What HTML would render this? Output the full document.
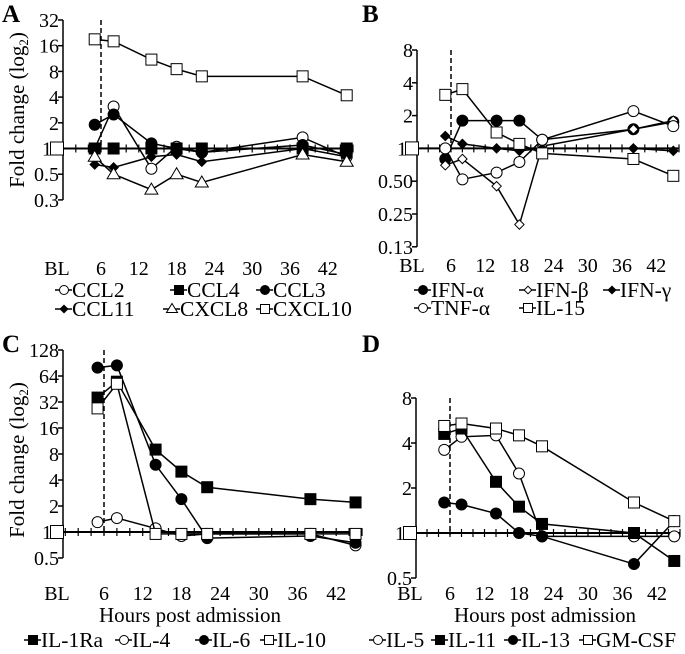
<!DOCTYPE html>
<html><head><meta charset="utf-8"><style>
html,body{margin:0;padding:0;background:#fff;}
svg text{font-family:"Liberation Serif",serif;fill:#000;}
</style></head><body>
<svg id="c" width="685" height="649" viewBox="0 0 685 649" xmlns="http://www.w3.org/2000/svg"></svg>
<script>
const hours = [5, 8, 14, 18, 22, 38, 45];
const xTickLabels = ["BL","6","12","18","24","30","36","42"];
// Panel A
const aNames = ["CCL2","CCL4","CCL3","CCL11","CXCL8","CXCL10"];
const aCCL2 = [1.0, 3.1, 0.58, 1.05, 0.9, 1.35, 0.8];
const aCCL4 = [1, 1, 1, 1, 1, 1, 1];
const aCCL3 = [1.9, 2.5, 1.15, 1.0, 0.9, 1.1, 0.85];
const aCCL11 = [0.65, 0.6, 0.8, 0.85, 0.7, 1.0, 0.8];
const aCXCL8 = [0.8, 0.5, 0.33, 0.5, 0.4, 0.85, 0.7];
const aCXCL10 = [19, 18, 11, 8.5, 7, 7, 4.2];
const aTicks = ["32","16","8","4","2","1","0.5","0.3"];
// Panel B
const bNames = ["IFN-α","IFN-β","IFN-γ","TNF-α","IL-15"];
const bIFNa = [0.8, 1.8, 1.8, 1.8, 1.2, 1.5, 1.75];
const bIFNb = [0.7, 0.8, 0.45, 0.2, 1.05, 1.5, 1.8];
const bIFNg = [1.3, 1.1, 1.0, 0.95, 1.0, 1.0, 0.95];
const bTNFa = [1.0, 0.52, 0.6, 0.75, 1.2, 2.2, 1.6];
const bIL15 = [3.1, 3.5, 1.4, 1.1, 0.9, 0.8, 0.56];
const bTicks = ["8","4","2","1","0.50","0.25","0.13"];
// Panel C
const cNames = ["IL-1Ra","IL-4","IL-6","IL-10"];
const cIL1Ra = [36, 55, 9, 5, 3.3, 2.4, 2.2];
const cIL4 = [1.3, 1.45, 1.1, 0.9, 0.95, 0.95, 0.7];
const cIL6 = [80, 85, 6, 2.4, 0.85, 0.9, 0.75];
const cIL10 = [27, 52, 0.95, 0.95, 0.95, 0.95, 0.95];
const cTicks = ["128","64","32","16","8","4","2","1","0.5"];
// Panel D
const dNames = ["IL-5","IL-11","IL-13","GM-CSF"];
const dIL5 = [3.6, 4.4, 4.5, 2.5, 0.95, 0.95, 0.95];
const dIL11 = [4.6, 5.0, 2.2, 1.5, 1.15, 1.0, 0.65];
const dIL13 = [1.6, 1.55, 1.35, 1.0, 0.95, 0.62, 1.2];
const dGMCSF = [5.2, 5.4, 5.0, 4.5, 3.8, 1.6, 1.2];
const dTicks = ["8","4","2","1","0.5"];

const NS="http://www.w3.org/2000/svg";
const svg=document.getElementById('c');
function mk(tag,attrs,parent){const e=document.createElementNS(NS,tag);for(const k in attrs)e.setAttribute(k,attrs[k]);(parent||svg).appendChild(e);return e;}
function marker(g,type,x,y,s){
  s=s||5.5;let e;
  if(type==='oc'||type==='fc') e=mk('circle',{cx:x,cy:y,r:s,fill:type==='fc'?'#000':'#fff',stroke:'#000','stroke-width':1},g);
  else if(type==='os'||type==='fs') e=mk('rect',{x:x-s,y:y-s,width:2*s,height:2*s,fill:type==='fs'?'#000':'#fff',stroke:'#000','stroke-width':1},g);
  else if(type==='od'||type==='fd'){const d=s*0.85;e=mk('polygon',{points:`${x},${y-d} ${x+d},${y} ${x},${y+d} ${x-d},${y}`,fill:type==='fd'?'#000':'#fff',stroke:'#000','stroke-width':1},g);}
  else if(type==='ot') e=mk('polygon',{points:`${x},${y-s-1} ${x+s+1},${y+s-1} ${x-s-1},${y+s-1}`,fill:'#fff',stroke:'#000','stroke-width':1},g);
  return e;
}
function panel(p){
  const g=mk('g',{});
  
  
  const X=h=>p.x6+(h-6)*p.px;
  const Y=v=>p.y1-Math.log2(v)*p.step;
  const L=mk('text',{x:p.letter[0],y:p.letter[1],'font-size':25,'font-weight':'bold'},g);L.textContent=p.L;
  
  
  const ya=mk('line',{x1:p.ax,y1:p.yTop,x2:p.ax,y2:p.yBot,stroke:'#000','stroke-width':1.5},g);
  
  
  p.ticks.forEach((t,i)=>{
    const yy=p.yTop+i*p.step;
    mk('line',{x1:p.ax-5,y1:yy,x2:p.ax,y2:yy,stroke:'#000','stroke-width':1.5},g);
    const isOne=t==='1';
    const tx=mk('text',{x:isOne?p.blx-5:p.ax-4,y:yy+7,'font-size':20,'text-anchor':'end'},g);tx.textContent=t;
    
    
  });
  const y1=p.y1;
  const xa=mk('line',{x1:p.ax,y1:y1,x2:X(46),y2:y1,stroke:'#000','stroke-width':2},g);
  
  
  for(let h=-2;h<=46;h+=2){const xx=X(h);if(xx<=p.ax+2)continue;mk('line',{x1:xx,y1:y1-4,x2:xx,y2:y1+4,stroke:'#000','stroke-width':1.2},g);}
  const dl=mk('line',{x1:X(6),y1:p.yTop,x2:X(6),y2:p.dashBot,stroke:'#000','stroke-width':1.5,'stroke-dasharray':'5,3'},g);
  
  
  xTickLabels.forEach((t,i)=>{
    const xx=i===0?p.blx:X(6*i);
    const tx=mk('text',{x:xx,y:p.xly,'font-size':20,'text-anchor':'middle'},g);tx.textContent=t;
    
    
  });
  if(p.xtitle){const tt=mk('text',{x:p.xtitle[0],y:p.xtitle[1],'font-size':21,'text-anchor':'middle'},g);tt.textContent='Hours post admission';
    
    }
  if(p.ytitle){const tt=mk('text',{x:0,y:0,'font-size':21,'text-anchor':'middle',transform:`translate(${p.ytitle[0]},${p.ytitle[1]}) rotate(-90)`},g);
    tt.innerHTML='Fold change (log<tspan font-size="13" dy="4">2</tspan><tspan dy="-4">)</tspan>';
    
    }
  p.series.forEach((s,si)=>{
    const sg=mk('g',{},g);
    
    
    const pts=hours.map((h,i)=>X(h)+','+Y(s.v[i])).join(' ');
    mk('polyline',{points:pts,fill:'none',stroke:'#000','stroke-width':1.5},sg);
    hours.forEach((h,i)=>{const m=marker(sg,s.m,X(h),Y(s.v[i]));
      
      });
  });
  const bl=marker(g,'os',p.blx,y1,6.5);
  
  
  p.legend.forEach((it,i)=>{
    const lg=mk('g',{},g);
    
    
    const s=p.series[i];
    mk('line',{x1:it[0],y1:it[1]-7,x2:it[0]+17,y2:it[1]-7,stroke:'#000','stroke-width':1.5},lg);
    marker(lg,s.m,it[0]+9,it[1]-7,4.5);
    const tx=mk('text',{x:it[0]+17,y:it[1],'font-size':21.5},lg);tx.textContent=p.names[i];
  });
}
panel({name:'panel-a',L:'A',letter:[2,22],ax:63,yTop:20,yBot:200,step:25.7,y1:20+5*25.7,x6:101,px:6.3,blx:57,dashBot:150,xly:275,ytitle:[24,110],
  ticks:aTicks,names:aNames,
  series:[{v:aCCL2,m:'oc'},{v:aCCL4,m:'fs'},{v:aCCL3,m:'fc'},{v:aCCL11,m:'fd'},{v:aCXCL8,m:'ot'},{v:aCXCL10,m:'os'}],
  legend:[[55,297],[170,297],[256,297],[55,316],[163,316],[256,316]]});
panel({name:'panel-b',L:'B',letter:[362,22],ax:417,yTop:50,yBot:247,step:32.8,y1:50+3*32.8,x6:451,px:5.7,blx:412,dashBot:150,xly:272,
  ticks:bTicks,names:bNames,
  series:[{v:bIFNa,m:'fc'},{v:bIFNb,m:'od'},{v:bIFNg,m:'fd'},{v:bTNFa,m:'oc'},{v:bIL15,m:'os'}],
  legend:[[414,297],[519,297],[603,297],[414,315],[519,315]]});
panel({name:'panel-c',L:'C',letter:[2,352],ax:63,yTop:350,yBot:558,step:26,y1:350+7*26,x6:104,px:6.45,blx:57,dashBot:535,xly:600,xtitle:[190,622],ytitle:[24,460],
  ticks:cTicks,names:cNames,
  series:[{v:cIL1Ra,m:'fs'},{v:cIL4,m:'oc'},{v:cIL6,m:'fc'},{v:cIL10,m:'os'}],
  legend:[[24,647],[115,647],[195,647],[260,647]]});
panel({name:'panel-d',L:'D',letter:[362,352],ax:416,yTop:398,yBot:578,step:45,y1:398+3*45,x6:450,px:5.75,blx:410,dashBot:535,xly:600,xtitle:[545,622],
  ticks:dTicks,names:dNames,
  series:[{v:dIL5,m:'oc'},{v:dIL11,m:'fs'},{v:dIL13,m:'fc'},{v:dGMCSF,m:'os'}],
  legend:[[369,647],[431,647],[504,647],[579,647]]});
</script>
</body></html>
